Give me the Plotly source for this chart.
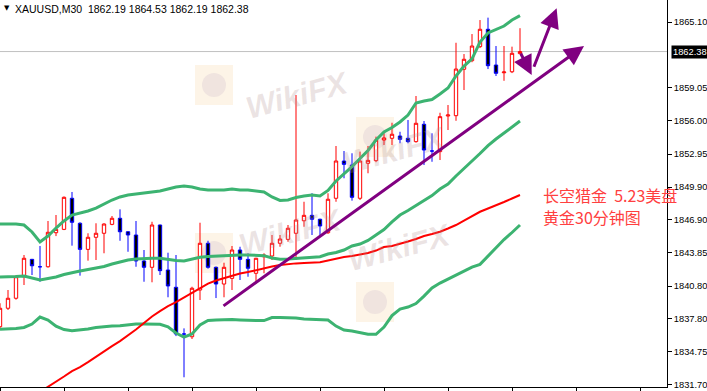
import plotly.graph_objects as go

# ---------------- data ----------------
candle_open = [1837.06, 1838.76, 1839.68, 1841.66, 1843.26, 1842.58, 1842.58, 1845.71, 1846.02, 1848.88,
               1846.58, 1844.18, 1845.29, 1845.66, 1846.48, 1847.04, 1845.80, 1845.50, 1843.11, 1842.53,
               1846.42, 1842.28, 1840.69, 1836.39, 1836.14, 1840.44, 1844.74, 1842.53, 1840.99, 1841.51,
               1844.12, 1843.26, 1841.98, 1843.50, 1843.57, 1844.74, 1845.10, 1845.66, 1846.81, 1847.31,
               1846.95, 1845.71, 1848.88, 1852.31, 1851.94, 1848.88, 1852.10, 1852.34, 1854.24, 1854.40,
               1854.61, 1854.40, 1854.09, 1855.69, 1853.23, 1853.17, 1856.45, 1856.48, 1860.75, 1861.54,
               1862.83, 1864.43, 1861.14, 1860.43, 1860.52, 1862.19]
candle_high = [1839.22, 1840.44, 1841.82, 1843.66, 1843.30, 1844.49, 1846.79, 1847.34, 1849.05, 1849.46,
               1846.67, 1845.66, 1846.58, 1846.58, 1847.25, 1847.86, 1845.85, 1846.79, 1844.12, 1846.72,
               1846.45, 1843.87, 1843.66, 1836.91, 1840.74, 1846.63, 1844.97, 1842.60, 1842.95, 1844.49,
               1844.42, 1843.82, 1843.40, 1843.82, 1845.50, 1845.50, 1846.42, 1858.38, 1848.56, 1849.34,
               1847.00, 1849.34, 1853.69, 1853.23, 1853.02, 1853.17, 1853.69, 1854.55, 1854.86, 1855.83,
               1855.00, 1856.08, 1858.29, 1855.99, 1854.86, 1856.75, 1857.46, 1863.19, 1862.15, 1863.99,
               1865.28, 1865.50, 1862.89, 1862.89, 1862.83, 1864.53]
candle_low = [1836.90, 1838.60, 1839.55, 1840.90, 1841.82, 1841.20, 1842.50, 1845.40, 1845.95, 1844.52,
              1841.76, 1843.14, 1843.20, 1843.82, 1846.40, 1844.97, 1843.96, 1842.58, 1841.20, 1841.15,
              1841.82, 1839.77, 1836.20, 1832.41, 1835.93, 1839.52, 1842.40, 1839.70, 1839.77, 1840.44,
              1841.36, 1841.66, 1841.05, 1841.98, 1843.20, 1844.42, 1844.88, 1843.20, 1846.26, 1845.50,
              1845.50, 1845.60, 1848.56, 1850.72, 1848.66, 1848.72, 1851.18, 1852.20, 1853.78, 1853.78,
              1853.94, 1853.94, 1854.00, 1851.94, 1852.24, 1852.40, 1855.16, 1856.01, 1858.84, 1861.40,
              1862.70, 1860.77, 1860.13, 1859.69, 1860.40, 1862.19]
candle_close = [1838.76, 1839.68, 1841.66, 1843.36, 1842.67, 1842.58, 1845.75, 1846.02, 1848.97, 1846.67,
                1844.18, 1845.29, 1845.66, 1846.51, 1847.04, 1845.80, 1845.50, 1843.11, 1842.53, 1846.42,
                1842.22, 1840.81, 1836.39, 1836.39, 1840.60, 1844.74, 1842.53, 1840.99, 1842.53, 1844.12,
                1843.26, 1842.44, 1843.36, 1843.66, 1844.74, 1845.13, 1846.12, 1846.88, 1847.31, 1846.95,
                1846.33, 1848.79, 1852.31, 1852.00, 1848.97, 1852.31, 1852.37, 1854.24, 1854.43, 1854.77,
                1854.30, 1854.09, 1855.78, 1853.32, 1853.23, 1856.39, 1856.54, 1860.77, 1861.67, 1862.89,
                1864.43, 1861.08, 1860.38, 1860.50, 1862.22, 1862.38]

band_upper = [1846.51, 1846.51, 1846.51, 1846.42, 1845.78, 1844.86, 1845.41, 1846.14, 1846.79, 1847.34,
              1847.52, 1847.71, 1847.98, 1848.35, 1848.72, 1849.00, 1849.18, 1849.27, 1849.37, 1849.46,
              1849.55, 1849.73, 1849.92, 1850.01, 1849.92, 1849.73, 1849.64, 1849.64, 1849.64, 1849.73,
              1849.64, 1849.64, 1849.55, 1849.46, 1849.00, 1848.68, 1848.72, 1848.95, 1849.09, 1849.18,
              1849.09, 1849.60, 1850.47, 1851.11, 1851.80, 1852.54, 1853.28, 1854.24, 1854.98, 1855.39,
              1855.90, 1856.54, 1857.65, 1857.83, 1857.97, 1858.47, 1859.03, 1860.13, 1861.05, 1861.70,
              1863.26, 1864.09, 1864.41, 1864.73, 1865.28, 1865.68]
band_middle = [1841.64, 1841.64, 1841.68, 1841.73, 1841.54, 1841.36, 1841.50, 1841.64, 1841.87, 1842.05,
               1842.19, 1842.33, 1842.46, 1842.60, 1842.83, 1843.02, 1843.20, 1843.29, 1843.34, 1843.36,
               1843.36, 1843.25, 1843.15, 1843.11, 1843.29, 1843.45, 1843.52, 1843.57, 1843.61, 1843.66,
               1843.66, 1843.66, 1843.66, 1843.60, 1843.38, 1843.26, 1843.29, 1843.34, 1843.38, 1843.43,
               1843.50, 1843.75, 1843.89, 1844.12, 1844.49, 1844.67, 1845.00, 1845.50, 1846.01, 1846.70,
               1847.34, 1847.75, 1848.21, 1848.67, 1849.13, 1849.73, 1850.19, 1850.93, 1851.66, 1852.31,
               1853.00, 1853.73, 1854.33, 1854.88, 1855.43, 1855.99]
band_lower = [1836.82, 1836.85, 1836.90, 1836.99, 1837.31, 1837.95, 1837.68, 1837.12, 1836.80, 1836.69,
              1836.76, 1836.85, 1836.99, 1837.08, 1837.12, 1837.15, 1837.22, 1837.31, 1837.31, 1837.28,
              1837.28, 1837.06, 1836.48, 1836.11, 1836.39, 1837.22, 1837.63, 1837.68, 1837.72, 1837.72,
              1837.68, 1837.63, 1837.63, 1837.63, 1837.91, 1837.92, 1837.92, 1837.86, 1837.77, 1837.74,
              1837.74, 1837.68, 1837.12, 1836.76, 1836.66, 1836.53, 1836.36, 1836.36, 1837.03, 1838.09,
              1838.69, 1838.87, 1839.19, 1839.88, 1840.62, 1841.08, 1841.45, 1841.82, 1842.18, 1842.55,
              1842.80, 1843.56, 1844.35, 1845.08, 1845.73, 1846.42]
ma_red = [None, None, None, None, 1830.59, 1831.05, 1831.51, 1831.97, 1832.48, 1832.98,
          1833.35, 1833.81, 1834.32, 1834.82, 1835.28, 1835.74, 1836.25, 1836.80, 1837.40, 1838.00,
          1838.50, 1838.96, 1839.33, 1839.75, 1840.21, 1840.62, 1841.03, 1841.31, 1841.54, 1841.77,
          1841.95, 1842.09, 1842.28, 1842.41, 1842.60, 1842.74, 1842.83, 1842.89, 1842.92, 1842.97,
          1842.99, 1843.15, 1843.34, 1843.47, 1843.57, 1843.70, 1843.84, 1844.07, 1844.39, 1844.49,
          1844.67, 1844.90, 1845.13, 1845.41, 1845.59, 1845.80, 1846.10, 1846.42, 1846.83, 1847.25,
          1847.64, 1847.94, 1848.21, 1848.54, 1848.86, 1849.18]

price_ticks = [1865.10, 1859.05, 1856.00, 1852.95, 1849.90, 1846.90, 1843.85,
               1840.80, 1837.80, 1834.75, 1831.70]
time_ticks = [0, 8, 16, 24, 32, 40, 48, 56, 64, 72, 80]

# drawn objects (bar index, price)
trend_from = (27.75, 1838.88)
trend_to = (73.0, 1862.89)
arrow_down_from = (65.0, 1862.34)
arrow_down_to = (66.46, 1860.22)
arrow_up_from = (66.67, 1860.84)
arrow_up_to = (69.58, 1866.36)

symbol = "XAUUSD,M30"
note_lines = ["长空猎金\u00a0\u00a05.23美盘", "黄金30分钟图"]
note_pos = [(67.6, 1849.18), (67.6, 1847.13)]
watermark = "WikiFX"

# ---------------- figure ----------------
W, H = 707, 391
ML, MR, MT, MB = 0, 40, 0, 4
PW, PH = W - ML - MR, H - MT - MB
Y_RANGE = [1831.515, 1867.124]
X_RANGE = [0, PW / 8.0]

def pxx(x):
    return x / PW

def pxy(y):
    return 1 - y / PH

idx = list(range(len(candle_open)))
GREEN = "#3cb371"
PURPLE = "#800080"

fig = go.Figure()

for band in (band_upper, band_middle, band_lower):
    fig.add_trace(go.Scatter(x=idx, y=band, mode="lines",
                             line=dict(color=GREEN, width=3), hoverinfo="skip"))
fig.add_trace(go.Scatter(x=idx, y=ma_red, mode="lines",
                         line=dict(color="#ff0000", width=2), hoverinfo="skip"))

fig.add_trace(go.Candlestick(
    x=idx, open=candle_open, high=candle_high, low=candle_low, close=candle_close,
    increasing=dict(line=dict(color="#ff0000", width=1), fillcolor="#ffffff"),
    decreasing=dict(line=dict(color="#0000ff", width=1), fillcolor="#000000"),
    whiskerwidth=0, hoverinfo="skip"))

shapes = []
# current price line
shapes.append(dict(type="line", xref="paper", x0=0, x1=1, yref="y",
                   y0=candle_close[-1], y1=candle_close[-1],
                   line=dict(color="#c0c0c0", width=1), layer="below"))

# watermark logos
wm_logos = [(214, 85), (375, 137), (214, 253), (375, 302)]
wm_texts = [(297, 63), (452, 118), (290, 232), (457, 280)]
for cx, cy in wm_logos:
    shapes.append(dict(type="rect", xref="paper", yref="paper",
                       x0=pxx(cx - 19), x1=pxx(cx + 19), y0=pxy(cy + 20), y1=pxy(cy - 20),
                       fillcolor="#fdf4e7", line=dict(width=0), layer="below"))
    shapes.append(dict(type="circle", xref="paper", yref="paper",
                       x0=pxx(cx - 12), x1=pxx(cx + 12), y0=pxy(cy + 12), y1=pxy(cy - 12),
                       fillcolor="#f0e4df", line=dict(width=0), layer="below"))

annotations = []
for tx, ty in wm_texts:
    annotations.append(dict(text=watermark, xref="paper", yref="paper", x=pxx(tx), y=pxy(ty),
                            showarrow=False, textangle=-15,
                            font=dict(family="Liberation Sans", size=31, weight="bold",
                                      style="italic", color="rgba(175,145,145,0.25)")))

# trend line and arrows
for (x0, y0), (x1, y1) in [(trend_from, trend_to), (arrow_down_from, arrow_down_to),
                           (arrow_up_from, arrow_up_to)]:
    annotations.append(dict(x=x1, y=y1, ax=x0, ay=y0, xref="x", yref="y", axref="x", ayref="y",
                            text="", showarrow=True, arrowhead=2, arrowsize=1.3,
                            arrowwidth=3, arrowcolor=PURPLE, standoff=0, startstandoff=0))

# header
annotations.append(dict(text="▼", xref="paper", yref="paper", x=0, y=1, xanchor="left",
                        yanchor="top", xshift=2, yshift=-2, showarrow=False,
                        font=dict(family="DejaVu Sans", size=7, color="#000000")))
header = symbol + "\u00a0\u00a0" + " ".join(
    f"{v:.2f}" for v in (candle_open[-1], candle_high[-1], candle_low[-1], candle_close[-1]))
annotations.append(dict(text=header, xref="paper", yref="paper", x=0, y=1, xanchor="left",
                        yanchor="top", xshift=13, yshift=-1, showarrow=False,
                        font=dict(family="Liberation Sans", size=10.5, color="#000000")))

# current price tag
annotations.append(dict(text=f"{candle_close[-1]:.2f}", xref="paper", yref="y", x=1,
                        y=candle_close[-1], xanchor="left", yanchor="middle", xshift=4,
                        showarrow=False, bgcolor="#000000", borderpad=1,
                        font=dict(family="Liberation Sans", size=9.3, color="#ffffff")))

# Chinese notes
for line, (nx, ny) in zip(note_lines, note_pos):
    annotations.append(dict(text=line, x=nx, y=ny, xref="x", yref="y", xanchor="left",
                            yanchor="middle", showarrow=False,
                            font=dict(family="Noto Sans CJK SC", size=16, color="#ff4040")))

fig.update_layout(
    width=W, height=H, margin=dict(l=ML, r=MR, t=MT, b=MB, pad=0),
    paper_bgcolor="#ffffff", plot_bgcolor="#ffffff", showlegend=False,
    boxgap=0.4, shapes=shapes, annotations=annotations,
    xaxis=dict(range=X_RANGE, showgrid=False, zeroline=False, rangeslider=dict(visible=False),
               showline=True, linecolor="#000000", linewidth=1, ticks="outside", ticklen=4,
               tickcolor="#000000", tickvals=time_ticks, showticklabels=False, fixedrange=True),
    yaxis=dict(range=Y_RANGE, side="right", showgrid=False, zeroline=False, showline=True,
               linecolor="#000000", linewidth=1, ticks="outside", ticklen=4, tickcolor="#000000",
               tickvals=price_ticks, tickformat=".2f",
               tickfont=dict(family="Liberation Sans", size=9.3, color="#000000"),
               fixedrange=True),
)

fig.write_html("out.html", config={"displayModeBar": False},
               post_script="document.body.style.margin='0';document.body.style.overflow='hidden';")
